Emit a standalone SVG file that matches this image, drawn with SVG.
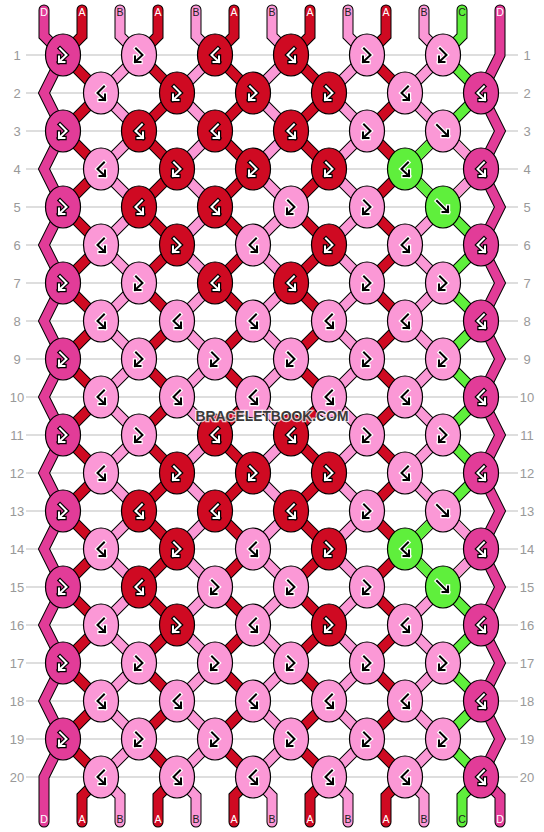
<svg xmlns="http://www.w3.org/2000/svg" xmlns:xlink="http://www.w3.org/1999/xlink" width="544" height="832" viewBox="0 0 544 832">
<style>
.grid line{stroke:#bdbdbd;stroke-width:1}
.num{font-family:"Liberation Sans",Arial,sans-serif;font-size:13px;fill:#999;text-anchor:middle}
.o{fill:none;stroke:#000;stroke-width:11;stroke-linejoin:miter;stroke-linecap:round}
.s{fill:none;stroke-width:9;stroke-linejoin:miter;stroke-linecap:round}
.sD{stroke:#E23C98}.sA{stroke:#CF0A22}.sB{stroke:#FB98D6}.sC{stroke:#5FEF3C}
.kD{fill:#E23C98}.kA{fill:#CF0A22}.kB{fill:#FB98D6}.kC{fill:#5FEF3C}
ellipse{stroke:#000;stroke-width:1.2}
.go{fill:none;stroke-width:4.4;stroke-linejoin:miter;stroke-linecap:square}
.gi{fill:none;stroke-width:2;stroke-linejoin:miter;stroke-linecap:square}
.dk .go{stroke:#000}.dk .gi{stroke:#fff}
.lt .go{stroke:#fff}.lt .gi{stroke:#000}
.lbl{font-family:"Liberation Sans",Arial,sans-serif;font-size:10.5px;text-anchor:middle}
.lw{fill:#fff}.lb{fill:#222}
.wm{font-family:"Liberation Sans",Arial,sans-serif;font-weight:bold;font-size:15px;fill:#3a3a3a;stroke:rgba(255,255,255,0.75);stroke-width:2.5;paint-order:stroke;text-anchor:middle}
</style>
<defs>
<path id="fb" d="M-3,-6.5 L3.5,0 L-4,7 M-4,1.5 L-4,7 L1.5,7"/>
<path id="bf" d="M3,-6.5 L-3.5,0 L4,7 M4,1.5 L4,7 L-1.5,7"/>
<path id="f" d="M-6,-6 L5,5 M5,-0.5 L5,5 L-0.5,5"/>
<polyline id="p0" points="44,10 44,36 63,55 44,93 63,131 44,169 63,207 44,245 63,283 44,321 63,359 44,397 63,435 44,473 63,511 44,549 63,587 44,625 63,663 44,701 63,739 44,777 44,822"/>
<polyline id="p1" points="82,10 82,36 63,55 101,93 63,131 101,169 63,207 101,245 63,283 101,321 63,359 101,397 63,435 101,473 63,511 101,549 63,587 101,625 63,663 101,701 63,739 101,777 82,796 82,822"/>
<polyline id="p2" points="120,10 120,36 139,55 101,93 139,131 101,169 139,207 101,245 139,283 101,321 139,359 101,397 139,435 101,473 139,511 101,549 139,587 101,625 139,663 101,701 139,739 101,777 120,796 120,822"/>
<polyline id="p3" points="158,10 158,36 139,55 177,93 139,131 177,169 139,207 177,245 139,283 177,321 139,359 177,397 139,435 177,473 139,511 177,549 139,587 177,625 139,663 177,701 139,739 177,777 158,796 158,822"/>
<polyline id="p4" points="196,10 196,36 215,55 177,93 215,131 177,169 215,207 177,245 215,283 177,321 215,359 177,397 215,435 177,473 215,511 177,549 215,587 177,625 215,663 177,701 215,739 177,777 196,796 196,822"/>
<polyline id="p5" points="234,10 234,36 215,55 253,93 215,131 253,169 215,207 253,245 215,283 253,321 215,359 253,397 215,435 253,473 215,511 253,549 215,587 253,625 215,663 253,701 215,739 253,777 234,796 234,822"/>
<polyline id="p6" points="272,10 272,36 291,55 253,93 291,131 253,169 291,207 253,245 291,283 253,321 291,359 253,397 291,435 253,473 291,511 253,549 291,587 253,625 291,663 253,701 291,739 253,777 272,796 272,822"/>
<polyline id="p7" points="310,10 310,36 291,55 329,93 291,131 329,169 291,207 329,245 291,283 329,321 291,359 329,397 291,435 329,473 291,511 329,549 291,587 329,625 291,663 329,701 291,739 329,777 310,796 310,822"/>
<polyline id="p8" points="348,10 348,36 367,55 329,93 367,131 329,169 367,207 329,245 367,283 329,321 367,359 329,397 367,435 329,473 367,511 329,549 367,587 329,625 367,663 329,701 367,739 329,777 348,796 348,822"/>
<polyline id="p9" points="386,10 386,36 367,55 405,93 367,131 405,169 367,207 405,245 367,283 405,321 367,359 405,397 367,435 405,473 367,511 405,549 367,587 405,625 367,663 405,701 367,739 405,777 386,796 386,822"/>
<polyline id="p10" points="424,10 424,36 443,55 405,93 443,131 405,169 443,207 405,245 443,283 405,321 443,359 405,397 443,435 405,473 443,511 405,549 443,587 405,625 443,663 405,701 443,739 405,777 424,796 424,822"/>
<polyline id="p11" points="462,10 462,36 443,55 481,93 443,131 481,169 443,207 481,245 443,283 481,321 443,359 481,397 443,435 481,473 443,511 481,549 443,587 481,625 443,663 481,701 443,739 481,777 462,796 462,822"/>
<polyline id="p12" points="500,10 500,55 481,93 500,131 481,169 500,207 481,245 500,283 481,321 500,359 481,397 500,435 481,473 500,511 481,549 500,587 481,625 500,663 481,701 500,739 481,777 500,796 500,822"/>
</defs>
<rect width="544" height="832" fill="#fff"/>
<g class="grid">
<line x1="26" y1="55" x2="518" y2="55"/><line x1="26" y1="93" x2="518" y2="93"/><line x1="26" y1="131" x2="518" y2="131"/><line x1="26" y1="169" x2="518" y2="169"/><line x1="26" y1="207" x2="518" y2="207"/><line x1="26" y1="245" x2="518" y2="245"/><line x1="26" y1="283" x2="518" y2="283"/><line x1="26" y1="321" x2="518" y2="321"/><line x1="26" y1="359" x2="518" y2="359"/><line x1="26" y1="397" x2="518" y2="397"/><line x1="26" y1="435" x2="518" y2="435"/><line x1="26" y1="473" x2="518" y2="473"/><line x1="26" y1="511" x2="518" y2="511"/><line x1="26" y1="549" x2="518" y2="549"/><line x1="26" y1="587" x2="518" y2="587"/><line x1="26" y1="625" x2="518" y2="625"/><line x1="26" y1="663" x2="518" y2="663"/><line x1="26" y1="701" x2="518" y2="701"/><line x1="26" y1="739" x2="518" y2="739"/><line x1="26" y1="777" x2="518" y2="777"/>
</g>
<g id="row-numbers" class="num">
<text x="17" y="59.5">1</text><text x="17" y="97.5">2</text><text x="17" y="135.5">3</text><text x="17" y="173.5">4</text><text x="17" y="211.5">5</text><text x="17" y="249.5">6</text><text x="17" y="287.5">7</text><text x="17" y="325.5">8</text><text x="17" y="363.5">9</text><text x="17" y="401.5">10</text><text x="17" y="439.5">11</text><text x="17" y="477.5">12</text><text x="17" y="515.5">13</text><text x="17" y="553.5">14</text><text x="17" y="591.5">15</text><text x="17" y="629.5">16</text><text x="17" y="667.5">17</text><text x="17" y="705.5">18</text><text x="17" y="743.5">19</text><text x="17" y="781.5">20</text>
<text x="527" y="59.5">1</text><text x="527" y="97.5">2</text><text x="527" y="135.5">3</text><text x="527" y="173.5">4</text><text x="527" y="211.5">5</text><text x="527" y="249.5">6</text><text x="527" y="287.5">7</text><text x="527" y="325.5">8</text><text x="527" y="363.5">9</text><text x="527" y="401.5">10</text><text x="527" y="439.5">11</text><text x="527" y="477.5">12</text><text x="527" y="515.5">13</text><text x="527" y="553.5">14</text><text x="527" y="591.5">15</text><text x="527" y="629.5">16</text><text x="527" y="667.5">17</text><text x="527" y="705.5">18</text><text x="527" y="743.5">19</text><text x="527" y="781.5">20</text>
</g>
<g id="connectors">
<use href="#p0" class="o"/><use href="#p1" class="o"/><use href="#p2" class="o"/><use href="#p3" class="o"/><use href="#p4" class="o"/><use href="#p5" class="o"/><use href="#p6" class="o"/><use href="#p7" class="o"/><use href="#p8" class="o"/><use href="#p9" class="o"/><use href="#p10" class="o"/><use href="#p11" class="o"/><use href="#p12" class="o"/>
<use href="#p0" class="s sD"/><use href="#p1" class="s sA"/><use href="#p2" class="s sB"/><use href="#p3" class="s sA"/><use href="#p4" class="s sB"/><use href="#p5" class="s sA"/><use href="#p6" class="s sB"/><use href="#p7" class="s sA"/><use href="#p8" class="s sB"/><use href="#p9" class="s sA"/><use href="#p10" class="s sB"/><use href="#p11" class="s sC"/><use href="#p12" class="s sD"/>
<polyline class="s sC" points="443,131 405,169 443,207"/>
<polyline class="s sC" points="443,511 405,549 443,587"/>
<polyline class="s sB" points="443,131 481,169 443,207"/>
<polyline class="s sB" points="443,511 481,549 443,587"/>
</g>
<g id="strand-labels" class="lbl">
<text class="lw" x="44" y="16">D</text><text class="lw" x="82" y="16">A</text><text class="lb" x="120" y="16">B</text><text class="lw" x="158" y="16">A</text><text class="lb" x="196" y="16">B</text><text class="lw" x="234" y="16">A</text><text class="lb" x="272" y="16">B</text><text class="lw" x="310" y="16">A</text><text class="lb" x="348" y="16">B</text><text class="lw" x="386" y="16">A</text><text class="lb" x="424" y="16">B</text><text class="lb" x="462" y="16">C</text><text class="lw" x="500" y="16">D</text>
<text class="lw" x="44" y="823">D</text><text class="lw" x="82" y="823">A</text><text class="lb" x="120" y="823">B</text><text class="lw" x="158" y="823">A</text><text class="lb" x="196" y="823">B</text><text class="lw" x="234" y="823">A</text><text class="lb" x="272" y="823">B</text><text class="lw" x="310" y="823">A</text><text class="lb" x="348" y="823">B</text><text class="lw" x="386" y="823">A</text><text class="lb" x="424" y="823">B</text><text class="lb" x="462" y="823">C</text><text class="lw" x="500" y="823">D</text>
</g>
<g id="knots">
<g id="k1-1" class="dk" transform="translate(63,55)"><ellipse class="kD" rx="17.5" ry="21"/><use href="#fb" class="go"/><use href="#fb" class="gi"/></g>
<g id="k1-2" class="lt" transform="translate(139,55)"><ellipse class="kB" rx="17.5" ry="21"/><use href="#fb" class="go"/><use href="#fb" class="gi"/></g>
<g id="k1-3" class="dk" transform="translate(215,55)"><ellipse class="kA" rx="17.5" ry="21"/><use href="#bf" class="go"/><use href="#bf" class="gi"/></g>
<g id="k1-4" class="dk" transform="translate(291,55)"><ellipse class="kA" rx="17.5" ry="21"/><use href="#bf" class="go"/><use href="#bf" class="gi"/></g>
<g id="k1-5" class="lt" transform="translate(367,55)"><ellipse class="kB" rx="17.5" ry="21"/><use href="#fb" class="go"/><use href="#fb" class="gi"/></g>
<g id="k1-6" class="lt" transform="translate(443,55)"><ellipse class="kB" rx="17.5" ry="21"/><use href="#fb" class="go"/><use href="#fb" class="gi"/></g>

<g id="k2-1" class="lt" transform="translate(101,93)"><ellipse class="kB" rx="17.5" ry="21"/><use href="#bf" class="go"/><use href="#bf" class="gi"/></g>
<g id="k2-2" class="dk" transform="translate(177,93)"><ellipse class="kA" rx="17.5" ry="21"/><use href="#fb" class="go"/><use href="#fb" class="gi"/></g>
<g id="k2-3" class="dk" transform="translate(253,93)"><ellipse class="kA" rx="17.5" ry="21"/><use href="#fb" class="go"/><use href="#fb" class="gi"/></g>
<g id="k2-4" class="dk" transform="translate(329,93)"><ellipse class="kA" rx="17.5" ry="21"/><use href="#fb" class="go"/><use href="#fb" class="gi"/></g>
<g id="k2-5" class="lt" transform="translate(405,93)"><ellipse class="kB" rx="17.5" ry="21"/><use href="#bf" class="go"/><use href="#bf" class="gi"/></g>
<g id="k2-6" class="dk" transform="translate(481,93)"><ellipse class="kD" rx="17.5" ry="21"/><use href="#bf" class="go"/><use href="#bf" class="gi"/></g>

<g id="k3-1" class="dk" transform="translate(63,131)"><ellipse class="kD" rx="17.5" ry="21"/><use href="#fb" class="go"/><use href="#fb" class="gi"/></g>
<g id="k3-2" class="dk" transform="translate(139,131)"><ellipse class="kA" rx="17.5" ry="21"/><use href="#bf" class="go"/><use href="#bf" class="gi"/></g>
<g id="k3-3" class="dk" transform="translate(215,131)"><ellipse class="kA" rx="17.5" ry="21"/><use href="#bf" class="go"/><use href="#bf" class="gi"/></g>
<g id="k3-4" class="dk" transform="translate(291,131)"><ellipse class="kA" rx="17.5" ry="21"/><use href="#bf" class="go"/><use href="#bf" class="gi"/></g>
<g id="k3-5" class="lt" transform="translate(367,131)"><ellipse class="kB" rx="17.5" ry="21"/><use href="#fb" class="go"/><use href="#fb" class="gi"/></g>
<g id="k3-6" class="lt" transform="translate(443,131)"><ellipse class="kB" rx="17.5" ry="21"/><use href="#f" class="go"/><use href="#f" class="gi"/></g>

<g id="k4-1" class="lt" transform="translate(101,169)"><ellipse class="kB" rx="17.5" ry="21"/><use href="#bf" class="go"/><use href="#bf" class="gi"/></g>
<g id="k4-2" class="dk" transform="translate(177,169)"><ellipse class="kA" rx="17.5" ry="21"/><use href="#fb" class="go"/><use href="#fb" class="gi"/></g>
<g id="k4-3" class="dk" transform="translate(253,169)"><ellipse class="kA" rx="17.5" ry="21"/><use href="#fb" class="go"/><use href="#fb" class="gi"/></g>
<g id="k4-4" class="dk" transform="translate(329,169)"><ellipse class="kA" rx="17.5" ry="21"/><use href="#fb" class="go"/><use href="#fb" class="gi"/></g>
<g id="k4-5" class="lt" transform="translate(405,169)"><ellipse class="kC" rx="17.5" ry="21"/><use href="#bf" class="go"/><use href="#bf" class="gi"/></g>
<g id="k4-6" class="dk" transform="translate(481,169)"><ellipse class="kD" rx="17.5" ry="21"/><use href="#bf" class="go"/><use href="#bf" class="gi"/></g>

<g id="k5-1" class="dk" transform="translate(63,207)"><ellipse class="kD" rx="17.5" ry="21"/><use href="#fb" class="go"/><use href="#fb" class="gi"/></g>
<g id="k5-2" class="dk" transform="translate(139,207)"><ellipse class="kA" rx="17.5" ry="21"/><use href="#bf" class="go"/><use href="#bf" class="gi"/></g>
<g id="k5-3" class="dk" transform="translate(215,207)"><ellipse class="kA" rx="17.5" ry="21"/><use href="#bf" class="go"/><use href="#bf" class="gi"/></g>
<g id="k5-4" class="lt" transform="translate(291,207)"><ellipse class="kB" rx="17.5" ry="21"/><use href="#fb" class="go"/><use href="#fb" class="gi"/></g>
<g id="k5-5" class="lt" transform="translate(367,207)"><ellipse class="kB" rx="17.5" ry="21"/><use href="#fb" class="go"/><use href="#fb" class="gi"/></g>
<g id="k5-6" class="lt" transform="translate(443,207)"><ellipse class="kC" rx="17.5" ry="21"/><use href="#f" class="go"/><use href="#f" class="gi"/></g>

<g id="k6-1" class="lt" transform="translate(101,245)"><ellipse class="kB" rx="17.5" ry="21"/><use href="#bf" class="go"/><use href="#bf" class="gi"/></g>
<g id="k6-2" class="dk" transform="translate(177,245)"><ellipse class="kA" rx="17.5" ry="21"/><use href="#fb" class="go"/><use href="#fb" class="gi"/></g>
<g id="k6-3" class="lt" transform="translate(253,245)"><ellipse class="kB" rx="17.5" ry="21"/><use href="#bf" class="go"/><use href="#bf" class="gi"/></g>
<g id="k6-4" class="dk" transform="translate(329,245)"><ellipse class="kA" rx="17.5" ry="21"/><use href="#fb" class="go"/><use href="#fb" class="gi"/></g>
<g id="k6-5" class="lt" transform="translate(405,245)"><ellipse class="kB" rx="17.5" ry="21"/><use href="#bf" class="go"/><use href="#bf" class="gi"/></g>
<g id="k6-6" class="dk" transform="translate(481,245)"><ellipse class="kD" rx="17.5" ry="21"/><use href="#bf" class="go"/><use href="#bf" class="gi"/></g>

<g id="k7-1" class="dk" transform="translate(63,283)"><ellipse class="kD" rx="17.5" ry="21"/><use href="#fb" class="go"/><use href="#fb" class="gi"/></g>
<g id="k7-2" class="lt" transform="translate(139,283)"><ellipse class="kB" rx="17.5" ry="21"/><use href="#fb" class="go"/><use href="#fb" class="gi"/></g>
<g id="k7-3" class="dk" transform="translate(215,283)"><ellipse class="kA" rx="17.5" ry="21"/><use href="#bf" class="go"/><use href="#bf" class="gi"/></g>
<g id="k7-4" class="dk" transform="translate(291,283)"><ellipse class="kA" rx="17.5" ry="21"/><use href="#bf" class="go"/><use href="#bf" class="gi"/></g>
<g id="k7-5" class="lt" transform="translate(367,283)"><ellipse class="kB" rx="17.5" ry="21"/><use href="#fb" class="go"/><use href="#fb" class="gi"/></g>
<g id="k7-6" class="lt" transform="translate(443,283)"><ellipse class="kB" rx="17.5" ry="21"/><use href="#fb" class="go"/><use href="#fb" class="gi"/></g>

<g id="k8-1" class="lt" transform="translate(101,321)"><ellipse class="kB" rx="17.5" ry="21"/><use href="#bf" class="go"/><use href="#bf" class="gi"/></g>
<g id="k8-2" class="lt" transform="translate(177,321)"><ellipse class="kB" rx="17.5" ry="21"/><use href="#bf" class="go"/><use href="#bf" class="gi"/></g>
<g id="k8-3" class="lt" transform="translate(253,321)"><ellipse class="kB" rx="17.5" ry="21"/><use href="#bf" class="go"/><use href="#bf" class="gi"/></g>
<g id="k8-4" class="lt" transform="translate(329,321)"><ellipse class="kB" rx="17.5" ry="21"/><use href="#bf" class="go"/><use href="#bf" class="gi"/></g>
<g id="k8-5" class="lt" transform="translate(405,321)"><ellipse class="kB" rx="17.5" ry="21"/><use href="#bf" class="go"/><use href="#bf" class="gi"/></g>
<g id="k8-6" class="dk" transform="translate(481,321)"><ellipse class="kD" rx="17.5" ry="21"/><use href="#bf" class="go"/><use href="#bf" class="gi"/></g>

<g id="k9-1" class="dk" transform="translate(63,359)"><ellipse class="kD" rx="17.5" ry="21"/><use href="#fb" class="go"/><use href="#fb" class="gi"/></g>
<g id="k9-2" class="lt" transform="translate(139,359)"><ellipse class="kB" rx="17.5" ry="21"/><use href="#fb" class="go"/><use href="#fb" class="gi"/></g>
<g id="k9-3" class="lt" transform="translate(215,359)"><ellipse class="kB" rx="17.5" ry="21"/><use href="#fb" class="go"/><use href="#fb" class="gi"/></g>
<g id="k9-4" class="lt" transform="translate(291,359)"><ellipse class="kB" rx="17.5" ry="21"/><use href="#fb" class="go"/><use href="#fb" class="gi"/></g>
<g id="k9-5" class="lt" transform="translate(367,359)"><ellipse class="kB" rx="17.5" ry="21"/><use href="#fb" class="go"/><use href="#fb" class="gi"/></g>
<g id="k9-6" class="lt" transform="translate(443,359)"><ellipse class="kB" rx="17.5" ry="21"/><use href="#fb" class="go"/><use href="#fb" class="gi"/></g>

<g id="k10-1" class="lt" transform="translate(101,397)"><ellipse class="kB" rx="17.5" ry="21"/><use href="#bf" class="go"/><use href="#bf" class="gi"/></g>
<g id="k10-2" class="lt" transform="translate(177,397)"><ellipse class="kB" rx="17.5" ry="21"/><use href="#bf" class="go"/><use href="#bf" class="gi"/></g>
<g id="k10-3" class="lt" transform="translate(253,397)"><ellipse class="kB" rx="17.5" ry="21"/><use href="#bf" class="go"/><use href="#bf" class="gi"/></g>
<g id="k10-4" class="lt" transform="translate(329,397)"><ellipse class="kB" rx="17.5" ry="21"/><use href="#bf" class="go"/><use href="#bf" class="gi"/></g>
<g id="k10-5" class="lt" transform="translate(405,397)"><ellipse class="kB" rx="17.5" ry="21"/><use href="#bf" class="go"/><use href="#bf" class="gi"/></g>
<g id="k10-6" class="dk" transform="translate(481,397)"><ellipse class="kD" rx="17.5" ry="21"/><use href="#bf" class="go"/><use href="#bf" class="gi"/></g>

<g id="k11-1" class="dk" transform="translate(63,435)"><ellipse class="kD" rx="17.5" ry="21"/><use href="#fb" class="go"/><use href="#fb" class="gi"/></g>
<g id="k11-2" class="lt" transform="translate(139,435)"><ellipse class="kB" rx="17.5" ry="21"/><use href="#fb" class="go"/><use href="#fb" class="gi"/></g>
<g id="k11-3" class="dk" transform="translate(215,435)"><ellipse class="kA" rx="17.5" ry="21"/><use href="#bf" class="go"/><use href="#bf" class="gi"/></g>
<g id="k11-4" class="dk" transform="translate(291,435)"><ellipse class="kA" rx="17.5" ry="21"/><use href="#bf" class="go"/><use href="#bf" class="gi"/></g>
<g id="k11-5" class="lt" transform="translate(367,435)"><ellipse class="kB" rx="17.5" ry="21"/><use href="#fb" class="go"/><use href="#fb" class="gi"/></g>
<g id="k11-6" class="lt" transform="translate(443,435)"><ellipse class="kB" rx="17.5" ry="21"/><use href="#fb" class="go"/><use href="#fb" class="gi"/></g>

<g id="k12-1" class="lt" transform="translate(101,473)"><ellipse class="kB" rx="17.5" ry="21"/><use href="#bf" class="go"/><use href="#bf" class="gi"/></g>
<g id="k12-2" class="dk" transform="translate(177,473)"><ellipse class="kA" rx="17.5" ry="21"/><use href="#fb" class="go"/><use href="#fb" class="gi"/></g>
<g id="k12-3" class="dk" transform="translate(253,473)"><ellipse class="kA" rx="17.5" ry="21"/><use href="#fb" class="go"/><use href="#fb" class="gi"/></g>
<g id="k12-4" class="dk" transform="translate(329,473)"><ellipse class="kA" rx="17.5" ry="21"/><use href="#fb" class="go"/><use href="#fb" class="gi"/></g>
<g id="k12-5" class="lt" transform="translate(405,473)"><ellipse class="kB" rx="17.5" ry="21"/><use href="#bf" class="go"/><use href="#bf" class="gi"/></g>
<g id="k12-6" class="dk" transform="translate(481,473)"><ellipse class="kD" rx="17.5" ry="21"/><use href="#bf" class="go"/><use href="#bf" class="gi"/></g>

<g id="k13-1" class="dk" transform="translate(63,511)"><ellipse class="kD" rx="17.5" ry="21"/><use href="#fb" class="go"/><use href="#fb" class="gi"/></g>
<g id="k13-2" class="dk" transform="translate(139,511)"><ellipse class="kA" rx="17.5" ry="21"/><use href="#bf" class="go"/><use href="#bf" class="gi"/></g>
<g id="k13-3" class="dk" transform="translate(215,511)"><ellipse class="kA" rx="17.5" ry="21"/><use href="#bf" class="go"/><use href="#bf" class="gi"/></g>
<g id="k13-4" class="dk" transform="translate(291,511)"><ellipse class="kA" rx="17.5" ry="21"/><use href="#bf" class="go"/><use href="#bf" class="gi"/></g>
<g id="k13-5" class="lt" transform="translate(367,511)"><ellipse class="kB" rx="17.5" ry="21"/><use href="#fb" class="go"/><use href="#fb" class="gi"/></g>
<g id="k13-6" class="lt" transform="translate(443,511)"><ellipse class="kB" rx="17.5" ry="21"/><use href="#f" class="go"/><use href="#f" class="gi"/></g>

<g id="k14-1" class="lt" transform="translate(101,549)"><ellipse class="kB" rx="17.5" ry="21"/><use href="#bf" class="go"/><use href="#bf" class="gi"/></g>
<g id="k14-2" class="dk" transform="translate(177,549)"><ellipse class="kA" rx="17.5" ry="21"/><use href="#fb" class="go"/><use href="#fb" class="gi"/></g>
<g id="k14-3" class="lt" transform="translate(253,549)"><ellipse class="kB" rx="17.5" ry="21"/><use href="#bf" class="go"/><use href="#bf" class="gi"/></g>
<g id="k14-4" class="dk" transform="translate(329,549)"><ellipse class="kA" rx="17.5" ry="21"/><use href="#fb" class="go"/><use href="#fb" class="gi"/></g>
<g id="k14-5" class="lt" transform="translate(405,549)"><ellipse class="kC" rx="17.5" ry="21"/><use href="#bf" class="go"/><use href="#bf" class="gi"/></g>
<g id="k14-6" class="dk" transform="translate(481,549)"><ellipse class="kD" rx="17.5" ry="21"/><use href="#bf" class="go"/><use href="#bf" class="gi"/></g>

<g id="k15-1" class="dk" transform="translate(63,587)"><ellipse class="kD" rx="17.5" ry="21"/><use href="#fb" class="go"/><use href="#fb" class="gi"/></g>
<g id="k15-2" class="dk" transform="translate(139,587)"><ellipse class="kA" rx="17.5" ry="21"/><use href="#bf" class="go"/><use href="#bf" class="gi"/></g>
<g id="k15-3" class="lt" transform="translate(215,587)"><ellipse class="kB" rx="17.5" ry="21"/><use href="#fb" class="go"/><use href="#fb" class="gi"/></g>
<g id="k15-4" class="lt" transform="translate(291,587)"><ellipse class="kB" rx="17.5" ry="21"/><use href="#fb" class="go"/><use href="#fb" class="gi"/></g>
<g id="k15-5" class="lt" transform="translate(367,587)"><ellipse class="kB" rx="17.5" ry="21"/><use href="#fb" class="go"/><use href="#fb" class="gi"/></g>
<g id="k15-6" class="lt" transform="translate(443,587)"><ellipse class="kC" rx="17.5" ry="21"/><use href="#f" class="go"/><use href="#f" class="gi"/></g>

<g id="k16-1" class="lt" transform="translate(101,625)"><ellipse class="kB" rx="17.5" ry="21"/><use href="#bf" class="go"/><use href="#bf" class="gi"/></g>
<g id="k16-2" class="dk" transform="translate(177,625)"><ellipse class="kA" rx="17.5" ry="21"/><use href="#fb" class="go"/><use href="#fb" class="gi"/></g>
<g id="k16-3" class="lt" transform="translate(253,625)"><ellipse class="kB" rx="17.5" ry="21"/><use href="#bf" class="go"/><use href="#bf" class="gi"/></g>
<g id="k16-4" class="dk" transform="translate(329,625)"><ellipse class="kA" rx="17.5" ry="21"/><use href="#fb" class="go"/><use href="#fb" class="gi"/></g>
<g id="k16-5" class="lt" transform="translate(405,625)"><ellipse class="kB" rx="17.5" ry="21"/><use href="#bf" class="go"/><use href="#bf" class="gi"/></g>
<g id="k16-6" class="dk" transform="translate(481,625)"><ellipse class="kD" rx="17.5" ry="21"/><use href="#bf" class="go"/><use href="#bf" class="gi"/></g>

<g id="k17-1" class="dk" transform="translate(63,663)"><ellipse class="kD" rx="17.5" ry="21"/><use href="#fb" class="go"/><use href="#fb" class="gi"/></g>
<g id="k17-2" class="lt" transform="translate(139,663)"><ellipse class="kB" rx="17.5" ry="21"/><use href="#fb" class="go"/><use href="#fb" class="gi"/></g>
<g id="k17-3" class="lt" transform="translate(215,663)"><ellipse class="kB" rx="17.5" ry="21"/><use href="#fb" class="go"/><use href="#fb" class="gi"/></g>
<g id="k17-4" class="lt" transform="translate(291,663)"><ellipse class="kB" rx="17.5" ry="21"/><use href="#fb" class="go"/><use href="#fb" class="gi"/></g>
<g id="k17-5" class="lt" transform="translate(367,663)"><ellipse class="kB" rx="17.5" ry="21"/><use href="#fb" class="go"/><use href="#fb" class="gi"/></g>
<g id="k17-6" class="lt" transform="translate(443,663)"><ellipse class="kB" rx="17.5" ry="21"/><use href="#fb" class="go"/><use href="#fb" class="gi"/></g>

<g id="k18-1" class="lt" transform="translate(101,701)"><ellipse class="kB" rx="17.5" ry="21"/><use href="#bf" class="go"/><use href="#bf" class="gi"/></g>
<g id="k18-2" class="lt" transform="translate(177,701)"><ellipse class="kB" rx="17.5" ry="21"/><use href="#bf" class="go"/><use href="#bf" class="gi"/></g>
<g id="k18-3" class="lt" transform="translate(253,701)"><ellipse class="kB" rx="17.5" ry="21"/><use href="#bf" class="go"/><use href="#bf" class="gi"/></g>
<g id="k18-4" class="lt" transform="translate(329,701)"><ellipse class="kB" rx="17.5" ry="21"/><use href="#bf" class="go"/><use href="#bf" class="gi"/></g>
<g id="k18-5" class="lt" transform="translate(405,701)"><ellipse class="kB" rx="17.5" ry="21"/><use href="#bf" class="go"/><use href="#bf" class="gi"/></g>
<g id="k18-6" class="dk" transform="translate(481,701)"><ellipse class="kD" rx="17.5" ry="21"/><use href="#bf" class="go"/><use href="#bf" class="gi"/></g>

<g id="k19-1" class="dk" transform="translate(63,739)"><ellipse class="kD" rx="17.5" ry="21"/><use href="#fb" class="go"/><use href="#fb" class="gi"/></g>
<g id="k19-2" class="lt" transform="translate(139,739)"><ellipse class="kB" rx="17.5" ry="21"/><use href="#fb" class="go"/><use href="#fb" class="gi"/></g>
<g id="k19-3" class="lt" transform="translate(215,739)"><ellipse class="kB" rx="17.5" ry="21"/><use href="#fb" class="go"/><use href="#fb" class="gi"/></g>
<g id="k19-4" class="lt" transform="translate(291,739)"><ellipse class="kB" rx="17.5" ry="21"/><use href="#fb" class="go"/><use href="#fb" class="gi"/></g>
<g id="k19-5" class="lt" transform="translate(367,739)"><ellipse class="kB" rx="17.5" ry="21"/><use href="#fb" class="go"/><use href="#fb" class="gi"/></g>
<g id="k19-6" class="lt" transform="translate(443,739)"><ellipse class="kB" rx="17.5" ry="21"/><use href="#fb" class="go"/><use href="#fb" class="gi"/></g>

<g id="k20-1" class="lt" transform="translate(101,777)"><ellipse class="kB" rx="17.5" ry="21"/><use href="#bf" class="go"/><use href="#bf" class="gi"/></g>
<g id="k20-2" class="lt" transform="translate(177,777)"><ellipse class="kB" rx="17.5" ry="21"/><use href="#bf" class="go"/><use href="#bf" class="gi"/></g>
<g id="k20-3" class="lt" transform="translate(253,777)"><ellipse class="kB" rx="17.5" ry="21"/><use href="#bf" class="go"/><use href="#bf" class="gi"/></g>
<g id="k20-4" class="lt" transform="translate(329,777)"><ellipse class="kB" rx="17.5" ry="21"/><use href="#bf" class="go"/><use href="#bf" class="gi"/></g>
<g id="k20-5" class="lt" transform="translate(405,777)"><ellipse class="kB" rx="17.5" ry="21"/><use href="#bf" class="go"/><use href="#bf" class="gi"/></g>
<g id="k20-6" class="dk" transform="translate(481,777)"><ellipse class="kD" rx="17.5" ry="21"/><use href="#bf" class="go"/><use href="#bf" class="gi"/></g>
</g>
<text id="watermark" class="wm" x="272" y="421" textLength="153" lengthAdjust="spacingAndGlyphs">BRACELETBOOK.COM</text>
</svg>
